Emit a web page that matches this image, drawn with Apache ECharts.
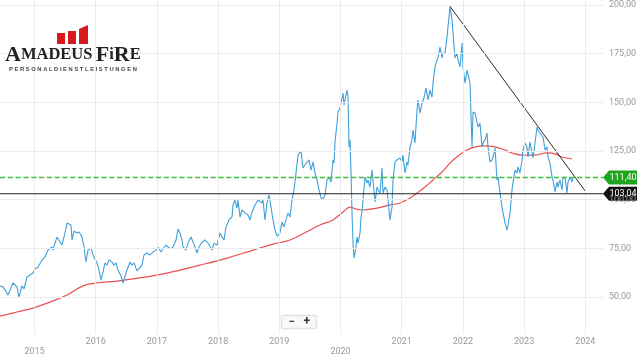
<!DOCTYPE html>
<html><head><meta charset="utf-8">
<script src="https://cdn.jsdelivr.net/npm/echarts@6/dist/echarts.min.js"></script>
<style>html,body{margin:0;padding:0;background:#fff}#c{width:637px;height:358px}</style>
</head><body><div id="c"></div>
<script>
// ---- data ----
const priceSeries = [
[2014.436,55.7],[2014.485,55.2],[2014.567,51.0],[2014.648,57.2],[2014.714,55.2],[2014.746,50.0],[2014.795,55.7],[2014.828,54.2],[2014.877,60.3],[2014.926,61.3],[2014.975,62.3],
[2015.008,64.4],[2015.057,65.4],[2015.122,69.0],[2015.171,70.6],[2015.220,74.1],[2015.286,75.7],[2015.302,74.1],[2015.335,77.7],[2015.367,80.8],[2015.416,78.3],[2015.449,76.7],[2015.498,82.9],[2015.531,88.0],[2015.563,89.0],[2015.596,87.0],[2015.613,79.3],[2015.645,83.9],[2015.694,82.9],[2015.727,83.4],[2015.776,80.8],[2015.809,75.7],[2015.841,68.0],[2015.874,74.1],[2015.923,75.2],[2015.956,71.6],
[2016.021,67.5],[2016.054,63.9],[2016.086,58.7],[2016.119,62.8],[2016.152,67.5],[2016.184,66.4],[2016.217,69.0],[2016.266,68.0],[2016.299,66.4],[2016.331,67.5],[2016.364,63.9],[2016.413,60.8],[2016.446,57.2],[2016.478,57.7],[2016.511,63.9],[2016.560,68.0],[2016.593,66.4],[2016.626,67.5],[2016.675,63.4],[2016.707,62.8],[2016.756,66.4],[2016.789,71.6],[2016.838,72.6],[2016.887,71.6],[2016.936,73.1],[2016.985,74.1],
[2017.018,75.7],[2017.067,73.1],[2017.099,74.7],[2017.148,76.7],[2017.181,75.7],[2017.230,74.7],[2017.263,75.7],[2017.312,79.3],[2017.345,84.9],[2017.377,82.9],[2017.410,79.3],[2017.426,75.7],[2017.475,74.1],[2017.508,77.7],[2017.557,80.8],[2017.590,78.3],[2017.622,75.7],[2017.655,72.6],[2017.688,75.7],[2017.737,78.3],[2017.786,79.3],[2017.835,77.7],[2017.867,76.7],[2017.900,74.1],[2017.933,77.7],[2017.982,76.7],
[2018.031,82.9],[2018.063,80.8],[2018.096,79.3],[2018.129,86.0],[2018.178,89.6],[2018.227,91.1],[2018.243,97.3],[2018.276,99.8],[2018.309,95.7],[2018.325,99.8],[2018.358,91.1],[2018.390,94.7],[2018.439,93.2],[2018.488,92.1],[2018.521,89.6],[2018.554,93.7],[2018.603,97.3],[2018.652,99.8],[2018.717,98.3],[2018.733,99.8],[2018.766,89.6],[2018.799,98.3],[2018.832,102.4],[2018.864,96.2],[2018.897,89.6],[2018.930,84.4],[2018.963,81.3],
[2019.011,82.9],[2019.044,88.5],[2019.077,86.0],[2019.109,89.6],[2019.142,93.2],[2019.175,91.1],[2019.207,99.8],[2019.240,105.0],[2019.273,113.7],[2019.305,122.9],[2019.354,125.0],[2019.387,116.3],[2019.420,117.8],[2019.452,116.8],[2019.485,120.4],[2019.518,115.2],[2019.551,119.4],[2019.583,113.7],[2019.616,110.1],[2019.649,105.0],[2019.681,100.9],[2019.714,100.3],[2019.747,102.4],[2019.779,110.1],[2019.812,111.6],[2019.845,109.1],[2019.877,120.4],[2019.894,118.8],[2019.910,129.6],[2019.943,139.4],[2019.959,145.0],[2019.992,147.1],
[2020.024,147.1],[2020.041,154.8],[2020.057,148.6],[2020.073,151.2],[2020.106,156.3],[2020.123,152.7],[2020.139,127.1],[2020.155,130.7],[2020.172,113.7],[2020.188,93.2],[2020.204,77.7],[2020.221,70.0],[2020.253,75.7],[2020.270,80.8],[2020.286,77.7],[2020.319,82.9],[2020.335,91.1],[2020.351,93.7],[2020.368,93.2],[2020.400,111.6],[2020.433,108.6],[2020.449,110.1],[2020.482,106.5],[2020.514,115.2],[2020.531,110.1],[2020.564,98.8],[2020.596,106.5],[2020.613,105.0],[2020.645,103.4],[2020.678,116.3],[2020.694,103.4],[2020.727,106.5],[2020.760,105.0],[2020.776,99.8],[2020.809,89.6],[2020.841,96.2],[2020.858,110.1],[2020.890,119.4],[2020.923,120.4],[2020.939,119.4],[2020.972,121.4],
[2021.005,119.4],[2021.021,122.9],[2021.054,113.7],[2021.087,119.4],[2021.103,117.8],[2021.136,127.1],[2021.168,130.7],[2021.185,135.8],[2021.217,129.1],[2021.250,146.1],[2021.266,151.2],[2021.299,144.5],[2021.332,149.7],[2021.364,152.2],[2021.397,157.4],[2021.430,151.2],[2021.462,156.3],[2021.495,152.7],[2021.511,159.9],[2021.544,168.2],[2021.577,171.7],[2021.593,172.8],[2021.626,178.4],[2021.659,172.8],[2021.675,175.3],[2021.708,175.3],[2021.740,183.6],[2021.756,188.7],[2021.789,199.0],[2021.822,192.3],[2021.838,185.6],[2021.871,172.8],[2021.904,175.3],[2021.920,171.7],[2021.953,168.2],[2021.985,180.5],
[2022.002,168.2],[2022.034,159.9],[2022.067,166.6],[2022.083,167.6],[2022.116,159.9],[2022.149,127.1],[2022.165,145.0],[2022.198,144.5],[2022.230,145.0],[2022.247,137.3],[2022.279,139.4],[2022.312,127.1],[2022.328,129.1],[2022.361,130.7],[2022.394,134.2],[2022.410,127.1],[2022.443,119.4],[2022.476,120.4],[2022.492,121.9],[2022.525,126.5],[2022.557,110.1],[2022.574,111.6],[2022.606,103.4],[2022.639,96.2],[2022.688,88.0],[2022.721,84.4],[2022.737,87.0],[2022.770,93.2],[2022.802,105.0],[2022.818,108.6],[2022.851,115.2],[2022.884,113.7],[2022.900,116.8],[2022.933,113.7],[2022.966,120.4],[2022.982,125.5],
[2023.015,129.1],[2023.047,127.1],[2023.064,121.9],[2023.096,129.6],[2023.129,124.0],[2023.145,121.4],[2023.178,129.1],[2023.211,137.3],[2023.227,135.8],[2023.260,134.2],[2023.292,133.2],[2023.309,132.2],[2023.341,125.5],[2023.374,127.1],[2023.390,121.9],[2023.423,118.8],[2023.456,111.6],[2023.472,110.1],[2023.505,104.0],[2023.537,109.1],[2023.554,106.5],[2023.586,110.1],[2023.619,105.0],[2023.635,111.1],[2023.668,111.6],[2023.701,103.4],[2023.717,109.1],[2023.750,111.6],[2023.783,109.1],[2023.799,111.4]
];
const movingAverage = [
[2014.436,40.2],[2014.714,42.3],[2014.975,44.3],[2015.253,47.4],[2015.531,51.0],[2015.792,55.7],[2016.021,57.2],[2016.348,58.2],[2016.724,59.8],[2017.165,62.3],[2017.704,66.4],[2018.145,70.0],[2018.570,74.1],[2018.897,77.2],[2019.175,79.3],[2019.502,84.4],[2019.665,87.0],[2019.877,89.6],[2020.041,93.7],[2020.155,96.2],[2020.253,95.2],[2020.351,94.7],[2020.596,95.7],[2020.809,97.3],[2020.972,98.3],[2021.136,100.9],[2021.250,103.4],[2021.381,106.5],[2021.511,110.1],[2021.659,114.2],[2021.789,118.8],[2021.920,122.4],[2022.067,125.5],[2022.198,127.1],[2022.361,127.6],[2022.525,127.1],[2022.688,125.5],[2022.802,124.0],[2022.966,122.9],[2023.178,122.9],[2023.374,124.0],[2023.505,123.5],[2023.619,121.9],[2023.783,120.9]
];
const trendLine = [[2021.789,199.3],[2024.011,103.9]];
const supportLevel = 103.04;
const lastPrice = 111.40;
const yTicks = [50, 75, 100, 125, 150, 175, 200];
const xTicks = [2015, 2016, 2017, 2018, 2019, 2020, 2021, 2022, 2023, 2024];

// ---- layout ----
const xMin = 2014.436, xMax = 2024.289, yMin = 31, yMax = 202.57;
const fmt = v => v.toFixed(2).replace('.', ',');
const FONT = 'Roboto, "Noto Sans", sans-serif';

const chart = echarts.init(document.getElementById('c'), null, {renderer: 'canvas'});
const tagPath = 'path://M0,7 L6,0 L36,0 L36,14 L6,14 Z';

function levelSeries(value, lineColor, lineType, lineWidth, tagColor, z) {
  return {
    type: 'line', silent: true, z: z, showSymbol: false, symbol: 'none',
    color: lineColor,
    data: [[xMin, value], [xMax, value]],
    lineStyle: {color: lineColor, type: lineType, width: lineWidth, opacity: 1},
    markPoint: {
      silent: true, animation: false,
      symbol: tagPath, symbolSize: [36, 14], symbolKeepAspect: false, symbolOffset: [18, 0],
      itemStyle: {color: tagColor},
      label: {show: true, position: 'inside', offset: [2, 0], color: '#fff', fontSize: 9, fontFamily: FONT},
      data: [{coord: [xMax, value], label: {formatter: fmt(value)}}]
    }
  };
}

const option = {
  animation: false,
  grid: {left: 0, right: 34, top: 0, bottom: 24},
  xAxis: {
    type: 'value', min: xMin, max: xMax, splitNumber: 10,
    axisLine: {show: false}, axisTick: {show: false}, splitLine: {show: false},
    axisLabel: {
      show: true, interval: 0, showMinLabel: false, showMaxLabel: false,
      color: '#999', fontSize: 9, fontFamily: FONT, lineHeight: 10, margin: 3,
      formatter: v => {
        const r = Math.round(v);
        if (Math.abs(v - r) > 1e-6) return '';
        return (r % 5 === 0) ? '\n' + r : '' + r;
      }
    }
  },
  yAxis: {type: 'value', min: yMin, max: yMax, show: false, splitLine: {show: false}},
  series: [
    {
      type: 'line', data: [], silent: true, z: 1,
      markLine: {
        silent: true, symbol: ['none', 'none'], animation: false,
        lineStyle: {color: '#ececec', type: 'solid', width: 1},
        data: yTicks.map(v => ({yAxis: v, label: {show: true, position: 'end', distance: 6, formatter: fmt(v), color: '#999', fontSize: 9, fontFamily: FONT}}))
          .concat(xTicks.map(v => ({xAxis: v, label: {show: false}})))
      }
    },
    {
      type: 'line', data: movingAverage, showSymbol: false, symbol: 'none', smooth: 0.4, z: 2,
      lineStyle: {color: '#e8504f', width: 1.2}
    },
    {
      type: 'line', data: priceSeries, showSymbol: false, symbol: 'none', z: 3,
      lineStyle: {color: '#40a0da', width: 1.1}
    },
    {
      type: 'line', data: trendLine, showSymbol: false, symbol: 'none', z: 4,
      lineStyle: {color: '#2a2a2a', width: 1}
    },
    levelSeries(lastPrice, '#3fbf3f', 'dashed', 1.3, '#1ea51e', 5),
    levelSeries(supportLevel, '#222222', 'solid', 1.1, '#111111', 6)
  ],
  graphic: [
    // logo
    {type: 'rect', left: 57, top: 33, shape: {width: 8, height: 11}, style: {fill: '#d7191f'}, z: 10},
    {type: 'rect', left: 68, top: 31, shape: {width: 8, height: 13}, style: {fill: '#d7191f'}, z: 10},
    {type: 'polygon', shape: {points: [[79, 29], [88, 25], [88, 44], [79, 44]]}, style: {fill: '#d7191f'}, z: 10},
    {type: 'text', left: 5, top: 44, z: 10, style: {
      text: '{b|A}{s|MADEUS} {b|F}{s|i}{b|R}{s|E}',
      rich: {
        b: {fontSize: 22, fontFamily: '"Liberation Serif", "DejaVu Serif", serif', fill: '#222', fontWeight: 'bold'},
        s: {fontSize: 16.5, fontFamily: '"Liberation Serif", "DejaVu Serif", serif', fill: '#222', fontWeight: 'bold'}
      }
    }},
    {type: 'text', left: 9, top: 66, z: 10, style: {
      text: 'P E R S O N A L D I E N S T L E I S T U N G E N',
      fontSize: 5.8, fontFamily: '"Liberation Sans", sans-serif', fontWeight: 'bold', fill: '#444'
    }},
    // zoom buttons
    {type: 'group', left: 281, top: 315, z: 10, children: [
      {type: 'rect', shape: {x: 0, y: 0, width: 35, height: 13, r: 1},
       style: {fill: '#fafafa', stroke: '#e2e2e2', lineWidth: 1, shadowBlur: 2, shadowColor: 'rgba(0,0,0,0.12)'}},
      {type: 'text', x: 7, y: 1, style: {text: '\u2212', fontSize: 11, fontWeight: 'bold', fill: '#333', fontFamily: FONT}},
      {type: 'text', x: 22, y: 0, style: {text: '+', fontSize: 12, fontWeight: 'bold', fill: '#333', fontFamily: FONT}}
    ]}
  ]
};
chart.setOption(option);
</script>
</body></html>
